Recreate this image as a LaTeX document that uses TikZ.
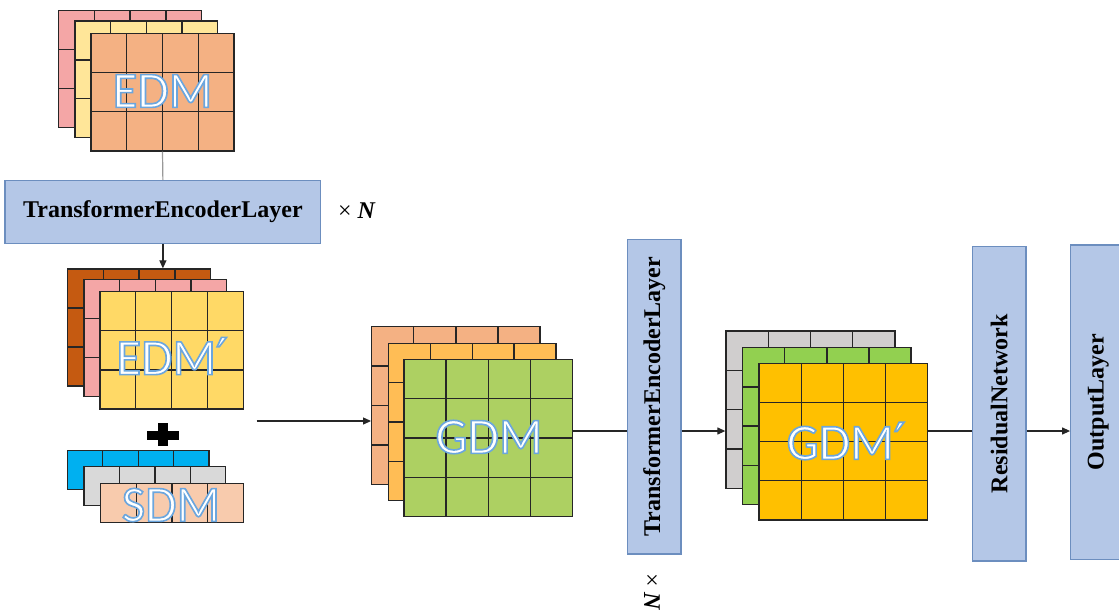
\documentclass[tikz,border=0pt]{standalone}
\usepackage{fontspec}
\setmainfont{Liberation Serif}
\newfontfamily\artfont{Carlito}[FakeBold=3.2]
\newfontfamily\primefont{DejaVu Sans}[FakeBold=3.2]
\usetikzlibrary{fit,arrows.meta}

\definecolor{boxfill}{HTML}{B4C7E7}
\definecolor{boxdraw}{HTML}{6C8EBF}
\definecolor{cellline}{HTML}{262626}
\definecolor{cPink}{HTML}{F4A6A6}
\definecolor{cYellowL}{HTML}{FFE699}
\definecolor{cPeach}{HTML}{F4B183}
\definecolor{cBrown}{HTML}{C55A11}
\definecolor{cYellow}{HTML}{FFD966}
\definecolor{cBlue}{HTML}{00B0F0}
\definecolor{cGrayL}{HTML}{D9D9D9}
\definecolor{cSkin}{HTML}{F8CBAD}
\definecolor{cOrangeL}{HTML}{FFBD55}
\definecolor{cOlive}{HTML}{ADD062}
\definecolor{cGray}{HTML}{D0CECE}
\definecolor{cGreen}{HTML}{92D050}
\definecolor{cGold}{HTML}{FFC000}

% blue stroke colour for the outlined (fake-bold) label glyphs
\newcommand\artstroke{\special{pdf:code 0.42 0.65 0.87 RG}}
\newcommand\pr{{\primefont ′}}

\tikzset{
  cellbox/.style={draw=cellline, line width=1.3pt, inner sep=0pt},
  gridline/.style={draw=cellline, line width=1.3pt},
  blockbox/.style={draw=boxdraw, fill=boxfill, line width=1.2pt, inner sep=0pt,
    font=\bfseries\fontsize{24}{28}\selectfont},
  vtext/.style={rotate=90, inner sep=0pt, font=\bfseries\fontsize{24}{28}\selectfont},
  arttext/.style={inner sep=0pt, text=white, font=\artfont\fontsize{51}{60}\selectfont},
  conn/.style={draw=black!85, line width=1.2pt},
  arr/.style={conn, -{Triangle[length=8pt,width=7pt]}},
  timestext/.style={inner sep=0pt, font=\fontsize{24}{28}\selectfont},
}

% name, x1, y1, x2, y2, cols, rows, colour
\newcommand\glayer[8]{%
  \node[cellbox, fill=#8, fit={(#2,#3)(#4,#5)}] (#1) {};
  \foreach \i in {1,...,#6}{\draw[gridline] ({#2+\i*(#4-#2)/#6},#3) -- ({#2+\i*(#4-#2)/#6},#5);}
  \foreach \j in {1,...,#7}{\draw[gridline] (#2,{#3+\j*(#5-#3)/#7}) -- (#4,{#3+\j*(#5-#3)/#7});}
}

\begin{document}
\begin{tikzpicture}[x=1pt,y=-1pt]
\useasboundingbox (0,0) rectangle (1119,613);

% ---- EDM stack
\glayer{edmA}{58.3}{10.7}{201.7}{127.7}{4}{3}{cPink}
\glayer{edmB}{75}{21}{217.7}{137.7}{4}{3}{cYellowL}
\glayer{edmC}{91}{33.3}{234}{151}{4}{3}{cPeach}
\node[arttext] (edmT) at (162.5,91) {\artstroke EDM};

% ---- Transformer encoder (horizontal)
\node[blockbox, minimum width=315.7pt, minimum height=62.6pt] (telA) at (162.9,212) {TransformerEncoderLayer};
\node[timestext] (nA) at (357,211) {× \textbf{\textit{N}}};

\draw[draw=black!40, line width=1.2pt] (edmC.south) -- (telA.north);

% ---- EDM' stack
\glayer{edmpA}{67.3}{269}{210.7}{386}{4}{3}{cBrown}
\glayer{edmpB}{84}{279.3}{226.7}{396.7}{4}{3}{cPink}
\glayer{edmpC}{100}{291.7}{243.3}{409}{4}{3}{cYellow}
\node[arttext] (edmpT) at (172,356) {\artstroke EDM\pr};

\draw[arr] (telA.south) -- (telA.south |- edmpA.north);

% ---- plus sign
\fill[black] (147.3,431) rectangle (179.3,439.5);
\fill[black] (158.3,423.3) rectangle (168.3,446);

% ---- SDM stack
\glayer{sdmA}{67.3}{450.3}{209}{489.3}{4}{1}{cBlue}
\glayer{sdmB}{84}{466.7}{225.7}{505.7}{4}{1}{cGrayL}
\glayer{sdmC}{100.7}{483.3}{243.3}{522.3}{4}{1}{cSkin}
\node[arttext] (sdmT) at (171,505) {\artstroke SDM};

% ---- GDM stack
\glayer{gdmA}{371.7}{326.7}{540}{484.3}{4}{4}{cPeach}
\glayer{gdmB}{388.3}{343.3}{556}{500.7}{4}{4}{cOrangeL}
\glayer{gdmC}{404}{359.3}{572.3}{516.7}{4}{4}{cOlive}
\node[arttext] (gdmT) at (489,437) {\artstroke GDM};

\coordinate (inStart) at (256.5,421);
\draw[arr] (inStart) -- (inStart -| gdmA.west);

% ---- Transformer encoder (vertical)
\node[blockbox, minimum width=53.7pt, minimum height=314.7pt] (telB) at (654.2,396.6) {};
\node[vtext] (telBT) at (telB.center) {TransformerEncoderLayer};
\node[timestext, rotate=-90] (nB) at (652,592) {× \textbf{\textit{N}}};

\coordinate (yline) at (0,431);
\draw[conn] (gdmC.east |- yline) -- (telB.west |- yline);

% ---- GDM' stack
\glayer{gdmpA}{726}{331}{895}{488.3}{4}{4}{cGray}
\glayer{gdmpB}{742.7}{347.7}{911}{504.3}{4}{4}{cGreen}
\glayer{gdmpC}{759}{363.3}{927.7}{520}{4}{4}{cGold}
\node[arttext] (gdmpT) at (846,441) {\artstroke GDM\pr};

\draw[arr] (telB.east |- yline) -- (gdmpA.west |- yline);

% ---- Residual network and output layer
\node[blockbox, minimum width=53.7pt, minimum height=314.3pt] (res) at (999.2,403.9) {};
\node[vtext] (resT) at (res.center) {ResidualNetwork};
\node[blockbox, minimum width=55pt, minimum height=314.3pt] (outL) at (1098.2,402.2) {};
\node[vtext] (outT) at (outL.center) {OutputLayer};

\draw[conn] (gdmpC.east |- yline) -- (res.west |- yline);
\draw[arr] (res.east |- yline) -- (outL.west |- yline);
\end{tikzpicture}
\end{document}
